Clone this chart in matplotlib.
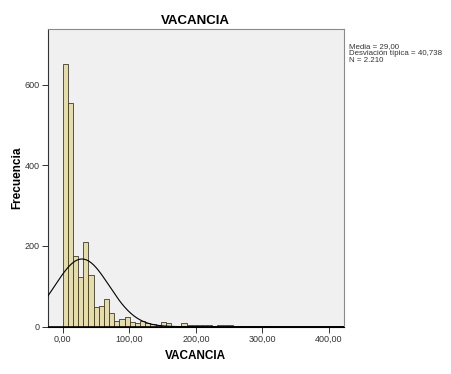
import numpy as np
import matplotlib
matplotlib.use("Agg")
import matplotlib.pyplot as plt

plt.rcParams['font.family'] = ['Liberation Sans', 'DejaVu Sans']

# histogram data
bin_width = 7.75
counts = [652, 554, 175, 124, 209, 127, 49, 52, 68, 34,
          15, 20, 25, 12, 10, 15, 8, 6, 3, 11,
          8, 0, 2, 10, 3, 3, 4, 3, 4, 1,
          4, 4, 3, 0, 2, 0, 2, 0, 0, 2,
          2]
media = 29.00
desv = 40.738
n_total = 2210
x_ticks = [0, 100, 200, 300, 400]
x_tick_labels = ["0,00", "100,00", "200,00", "300,00", "400,00"]
y_ticks = [0, 200, 400, 600]

edges = np.arange(len(counts)) * bin_width

fig = plt.figure(figsize=(4.52, 3.74), dpi=100)
ax = fig.add_axes([0.1055, 0.1265, 0.6555, 0.7952])
ax.set_facecolor("#f0f0f0")

ax.bar(edges, counts, width=bin_width, align="edge", color="#e6dca6",
       edgecolor="#3a3a3a", linewidth=0.6, zorder=2)

# normal curve scaled to the histogram
xs = np.linspace(-22.5, 422.5, 400)
ys = n_total * bin_width / (desv * np.sqrt(2 * np.pi)) * np.exp(-0.5 * ((xs - media) / desv) ** 2)
ax.plot(xs, ys, color="black", linewidth=0.8, zorder=3)
ax.axhline(0, color="black", linewidth=1.2, zorder=4)

ax.set_xlim(-22.5, 422.5)
ax.set_ylim(0, 737)
ax.set_xticks(x_ticks)
ax.set_xticklabels(x_tick_labels)
ax.set_yticks(y_ticks)
ax.tick_params(labelsize=6.5, length=4, width=0.7, colors="#333333", pad=1.5)

for s in ["top", "right"]:
    ax.spines[s].set_color("#8a8a8a")
ax.spines["left"].set_color("#333333")
ax.spines["bottom"].set_color("black")

ax.set_title("VACANCIA", fontsize=9.5, fontweight="bold", pad=4)
ax.set_xlabel("VACANCIA", fontsize=8.5, fontweight="bold", labelpad=5)
ax.set_ylabel("Frecuencia", fontsize=8.5, fontweight="bold", labelpad=1)

fig.text(0.772, 0.885, "Media = 29,00\nDesviación típica = 40,738\nN = 2.210",
         fontsize=5.7, va="top", ha="left", color="#333333", linespacing=0.95)

fig.savefig("out.png", dpi=100, facecolor="white")
